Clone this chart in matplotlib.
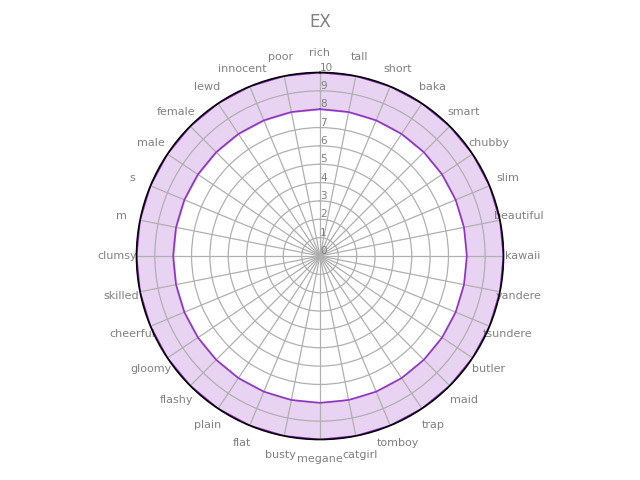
import numpy as np
import matplotlib
matplotlib.use("Agg")
import matplotlib.pyplot as plt

categories = ['rich', 'tall', 'short', 'baka', 'smart', 'chubby', 'slim', 'beautiful',
              'kawaii', 'yandere', 'tsundere', 'butler', 'maid', 'trap', 'tomboy', 'catgirl',
              'megane', 'busty', 'flat', 'plain', 'flashy', 'gloomy', 'cheerful', 'skilled',
              'clumsy', 'm', 's', 'male', 'female', 'lewd', 'innocent', 'poor']
inner_values = [8] * len(categories)
outer_values = [10] * len(categories)
r_ticks = list(range(0, 11))

n = len(categories)
theta = np.linspace(0, 2 * np.pi, n, endpoint=False)
theta_c = np.append(theta, theta[0])
inner_c = np.append(inner_values, inner_values[0])
outer_c = np.append(outer_values, outer_values[0])

fig = plt.figure(figsize=(6.4, 4.8), dpi=100)
r_px = 183.5
ax = fig.add_axes([(320 - r_px) / 640, (480 - 256 - r_px) / 480, 2 * r_px / 640, 2 * r_px / 480],
                  polar=True)
ax.set_theta_zero_location('N')
ax.set_theta_direction(-1)

ax.fill_between(theta_c, inner_c, outer_c, color='#e8d3f3', zorder=1)
ax.plot(theta_c, inner_c, color='#9433cc', lw=1.2, zorder=3)
ax.plot(theta_c, outer_c, color='#9433cc', lw=1.2, zorder=3)

ax.set_ylim(0, 10)
ax.set_yticks(r_ticks)
ax.set_yticklabels([str(t) for t in r_ticks], color='grey', fontsize=7.5)
ax.set_rlabel_position(0)
ax.set_xticks(theta)
ax.set_xticklabels(categories, color='grey', fontsize=8)
ax.tick_params(axis='x', pad=3.5)
ax.grid(color='#b0b0b0', lw=0.9)
ax.spines['polar'].set_color('black')
ax.spines['polar'].set_linewidth(1.2)
ax.spines['polar'].set_zorder(4)

fig.text(0.5, 1 - 22 / 480, 'EX', ha='center', va='center', color='grey', fontsize=12)

fig.savefig('out.png', dpi=100)
